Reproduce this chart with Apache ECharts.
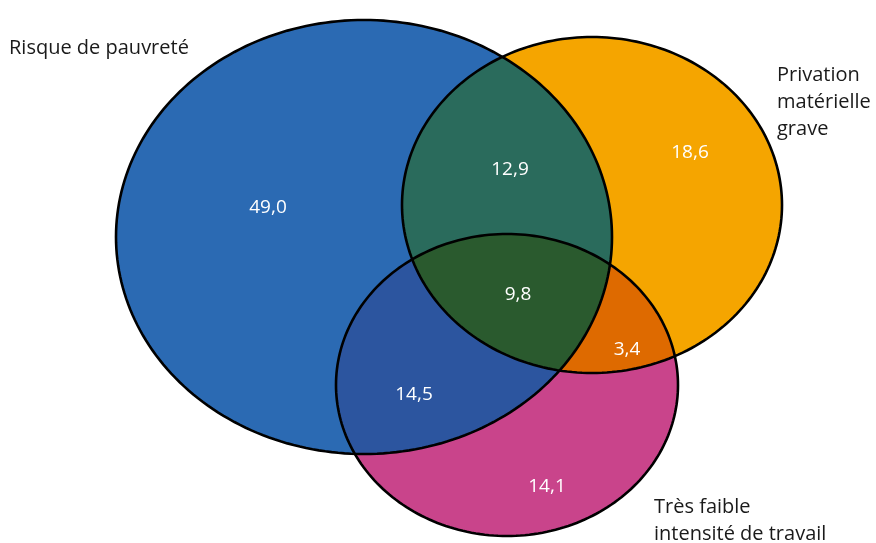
<!DOCTYPE html>
<html>
<head>
<meta charset="utf-8">
<script src="https://cdn.jsdelivr.net/npm/echarts@6/dist/echarts.min.js"></script>
<style>
html,body{margin:0;padding:0;background:#fff;}
#chart{width:876px;height:543px;}
</style>
</head>
<body>
<div id="chart"></div>
<script>
// Sets of the diagram
const setNames = ['Risque de pauvreté', 'Privation\nmatérielle\ngrave', 'Très faible\nintensité de travail'];
// Region shares (%), one per zone of the diagram
const regionKeys = ['A', 'B', 'C', 'AB', 'AC', 'BC', 'ABC'];
const regionValues = [49.0, 18.6, 14.1, 12.9, 14.5, 3.4, 9.8];

// Set geometry in plot units: [cx, cy, rx, ry]
const setShapes = [
  [364, 237, 248, 217],
  [592, 205, 190, 168],
  [507, 385, 171, 151]
];
// Anchor of each region's value label
const regionAnchors = [
  [268, 208], [690, 153], [547, 487], [510, 170], [414, 395], [627, 350], [518, 295]
];
// Anchor of each set's name (left aligned)
const setNameAnchors = [[9, 48], [777, 102], [654, 521]];

const setColors = ['#2b6ab3', '#f5a500', '#c9448b'];
const regionColors = { AB: '#2a6b5c', AC: '#2c559f', BC: '#de6a00', ABC: '#2a5a2e' };
const FONT = '"Open Sans", "Noto Sans", sans-serif';

function ellipsePoints(api, s) {
  const pts = [];
  const n = 240;
  for (let i = 0; i < n; i++) {
    const t = (i / n) * Math.PI * 2;
    pts.push(api.coord([s[0] + s[2] * Math.cos(t), s[1] + s[3] * Math.sin(t)]));
  }
  return pts;
}

function renderVenn(params, api) {
  const E = setShapes.map(s => ellipsePoints(api, s));
  const poly = (i, style) => ({ type: 'polygon', shape: { points: E[i] }, style: style });
  const clip = i => ({ type: 'polygon', shape: { points: E[i] } });
  const children = [];
  // base fills
  for (let i = 0; i < 3; i++) children.push(poly(i, { fill: setColors[i] }));
  // pairwise overlaps
  children.push(Object.assign(poly(1, { fill: regionColors.AB }), { clipPath: clip(0) }));
  children.push(Object.assign(poly(2, { fill: regionColors.AC }), { clipPath: clip(0) }));
  children.push(Object.assign(poly(2, { fill: regionColors.BC }), { clipPath: clip(1) }));
  // triple overlap
  children.push({
    type: 'group',
    clipPath: clip(0),
    children: [Object.assign(poly(2, { fill: regionColors.ABC }), { clipPath: clip(1) })]
  });
  // outlines
  for (let i = 0; i < 3; i++) children.push(poly(i, { fill: 'none', stroke: '#000', lineWidth: 2.6 }));
  // region values
  regionValues.forEach((v, i) => {
    const p = api.coord(regionAnchors[i]);
    children.push({
      type: 'text', x: p[0], y: p[1],
      style: {
        text: v.toFixed(1).replace('.', ','),
        fill: '#fff', font: '19px ' + FONT, align: 'center', verticalAlign: 'middle'
      }
    });
  });
  // set names
  setNames.forEach((name, i) => {
    const p = api.coord(setNameAnchors[i]);
    children.push({
      type: 'text', x: p[0], y: p[1],
      style: {
        text: name, fill: '#1a1a1a', font: '20px ' + FONT, lineHeight: 27,
        align: 'left', verticalAlign: 'middle'
      }
    });
  });
  return { type: 'group', children: children };
}

const chart = echarts.init(document.getElementById('chart'), null, { renderer: 'canvas' });
chart.setOption({
  animation: false,
  backgroundColor: '#fff',
  grid: { left: 0, right: 0, top: 0, bottom: 0 },
  xAxis: { type: 'value', min: 0, max: 876, show: false },
  yAxis: { type: 'value', min: 0, max: 543, inverse: true, show: false },
  series: [{
    type: 'custom',
    coordinateSystem: 'cartesian2d',
    clip: false,
    data: [regionKeys.map((k, i) => regionValues[i])],
    renderItem: function (params, api) {
      return renderVenn(params, api);
    }
  }]
});
</script>
</body>
</html>
